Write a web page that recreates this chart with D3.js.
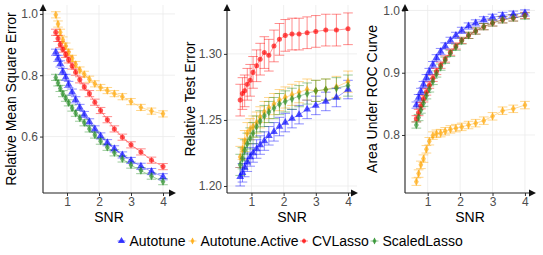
<!DOCTYPE html>
<html>
<head>
<meta charset="utf-8">
<script src="https://cdn.jsdelivr.net/npm/d3@7"></script>
<style>
  body { margin: 0; background: #fff; }
  text { font-family: "Liberation Sans", Arial, sans-serif; }
</style>
</head>
<body>
<svg id="chart" width="543" height="255"></svg>
<script>
// data
const methods = ["Autotune", "Autotune.Active", "CVLasso", "ScaledLasso"];
const snr = [0.65, 0.72, 0.79, 0.87, 0.96, 1.05, 1.16, 1.27, 1.40, 1.54,
             1.70, 1.87, 2.05, 2.26, 2.48, 2.73, 3.00, 3.31, 3.64, 4.00];

// relative mean square error
const mseAutotune = [0.875, 0.855, 0.837, 0.812, 0.793, 0.770, 0.745, 0.720, 0.695, 0.672,
                     0.648, 0.625, 0.602, 0.580, 0.560, 0.540, 0.522, 0.503, 0.486, 0.469];
const mseActive   = [0.997, 0.967, 0.940, 0.915, 0.895, 0.875, 0.855, 0.835, 0.817, 0.803,
                     0.787, 0.772, 0.760, 0.750, 0.740, 0.730, 0.714, 0.695, 0.683, 0.674];
const mseCV       = [0.940, 0.920, 0.900, 0.885, 0.868, 0.850, 0.830, 0.810, 0.785, 0.762,
                     0.740, 0.712, 0.685, 0.655, 0.625, 0.598, 0.573, 0.550, 0.523, 0.502];
const mseScaled   = [0.793, 0.775, 0.757, 0.740, 0.725, 0.710, 0.693, 0.676, 0.660, 0.645,
                     0.625, 0.605, 0.585, 0.565, 0.547, 0.527, 0.507, 0.489, 0.471, 0.453];
const mseErr = [0.010, 0.010, 0.010, 0.010];

// relative test error
const testAutotune = [1.207, 1.210, 1.214, 1.218, 1.222, 1.225, 1.228, 1.231, 1.234, 1.238,
                      1.241, 1.245, 1.248, 1.251, 1.254, 1.258, 1.261, 1.264, 1.267, 1.273];
const testActive   = [1.222, 1.228, 1.234, 1.240, 1.243, 1.245, 1.248, 1.252, 1.256, 1.259,
                      1.262, 1.265, 1.267, 1.269, 1.271, 1.273, 1.272, 1.273, 1.275, 1.279];
const testCV       = [1.265, 1.270, 1.272, 1.277, 1.280, 1.286, 1.291, 1.296, 1.301, 1.299,
                      1.306, 1.311, 1.314, 1.315, 1.315, 1.316, 1.317, 1.318, 1.318, 1.319];
const testScaled   = [1.216, 1.221, 1.227, 1.232, 1.236, 1.240, 1.245, 1.249, 1.253, 1.256,
                      1.259, 1.262, 1.264, 1.266, 1.268, 1.270, 1.272, 1.273, 1.274, 1.276];
const testErr = [0.007, 0.008, 0.012, 0.008];

// area under ROC curve
const aucAutotune = [0.848, 0.860, 0.870, 0.881, 0.892, 0.902, 0.913, 0.924, 0.934, 0.943,
                     0.952, 0.960, 0.968, 0.975, 0.980, 0.985, 0.989, 0.992, 0.994, 0.996];
const aucActive   = [0.725, 0.738, 0.752, 0.762, 0.777, 0.790, 0.799, 0.802, 0.803, 0.806,
                     0.809, 0.811, 0.813, 0.816, 0.819, 0.823, 0.830, 0.839, 0.842, 0.848];
const aucCV       = [0.826, 0.836, 0.847, 0.858, 0.869, 0.880, 0.891, 0.902, 0.912, 0.922,
                     0.933, 0.943, 0.952, 0.960, 0.967, 0.974, 0.980, 0.985, 0.988, 0.992];
const aucScaled   = [0.816, 0.828, 0.840, 0.851, 0.863, 0.874, 0.886, 0.898, 0.909, 0.920,
                     0.931, 0.941, 0.951, 0.960, 0.967, 0.974, 0.980, 0.985, 0.988, 0.991];
const aucErr = [0.005, 0.006, 0.005, 0.005];

const xTicks = [1, 2, 3, 4];
const mseTicks = [0.6, 0.8, 1.0];
const testTicks = [1.20, 1.25, 1.30];
const aucTicks = [0.8, 0.9, 1.0];

const colors = ["#0000ff", "#ffa500", "#ff0000", "#228b22"];
const shapes = [d3.symbolTriangle, d3.symbolDiamond, d3.symbolCircle, d3.symbolDiamond];

const panels = [
  {title: "Relative Mean Square Error", series: [mseAutotune, mseActive, mseCV, mseScaled], err: mseErr,
   ticks: mseTicks, fmt: d3.format(".1f"), left: 43, right: 175, xdom: [0.25, 4.375], ydom: [0.416, 1.029], titleX: 11},
  {title: "Relative Test Error", series: [testAutotune, testActive, testCV, testScaled], err: testErr,
   ticks: testTicks, fmt: d3.format(".2f"), left: 227, right: 357, xdom: [0.24, 4.28], ydom: [1.1947, 1.337], titleX: 190},
  {title: "Area Under ROC Curve", series: [aucAutotune, aucActive, aucCV, aucScaled], err: aucErr,
   ticks: aucTicks, fmt: d3.format(".1f"), left: 405, right: 535, xdom: [0.30, 4.31], ydom: [0.7068, 1.0088], titleX: 372}
];

const yTop = 5, yBottom = 193;
const svg = d3.select("#chart");

panels.forEach(p => {
  const x = d3.scaleLinear().domain(p.xdom).range([p.left, p.right]);
  const y = d3.scaleLinear().domain(p.ydom).range([yBottom, yTop]);
  const g = svg.append("g");

  // grid
  g.selectAll(".vg").data(xTicks).enter().append("line")
    .attr("x1", d => x(d)).attr("x2", d => x(d))
    .attr("y1", yTop).attr("y2", yBottom)
    .attr("stroke", "#ebebeb").attr("stroke-width", 0.8);
  g.selectAll(".hg").data(p.ticks).enter().append("line")
    .attr("x1", p.left).attr("x2", p.right)
    .attr("y1", d => y(d)).attr("y2", d => y(d))
    .attr("stroke", "#ebebeb").attr("stroke-width", 0.8);

  // lines
  const line = d3.line().x((d, i) => x(snr[i])).y(d => y(d));
  p.series.forEach((s, k) => {
    g.append("path").datum(s).attr("d", line)
      .attr("fill", "none").attr("stroke", colors[k])
      .attr("stroke-opacity", 0.5).attr("stroke-width", 0.8);
  });

  // error bars
  p.series.forEach((s, k) => {
    const e = p.err[k];
    const eb = g.append("g").attr("stroke", colors[k]).attr("stroke-opacity", 0.45).attr("stroke-width", 1);
    s.forEach((v, i) => {
      const cx = x(snr[i]), hw = x(snr[i] + 0.15) - cx;
      eb.append("line").attr("x1", cx).attr("x2", cx).attr("y1", y(v - e)).attr("y2", y(v + e));
      eb.append("line").attr("x1", cx - hw).attr("x2", cx + hw).attr("y1", y(v - e)).attr("y2", y(v - e));
      eb.append("line").attr("x1", cx - hw).attr("x2", cx + hw).attr("y1", y(v + e)).attr("y2", y(v + e));
    });
  });

  // points
  p.series.forEach((s, k) => {
    g.selectAll(null).data(s).enter().append("path")
      .attr("transform", (d, i) => `translate(${x(snr[i])},${y(d)})`)
      .attr("d", d3.symbol().type(shapes[k]).size(k === 0 ? 26 : 20))
      .attr("fill", colors[k]).attr("fill-opacity", 0.65);
  });

  // axes
  const ax = g.append("g").attr("transform", `translate(0,${yBottom})`)
    .call(d3.axisBottom(x).tickValues(xTicks).tickSize(3).tickPadding(1).tickFormat(d3.format("d")));
  const ay = g.append("g").attr("transform", `translate(${p.left},0)`)
    .call(d3.axisLeft(y).tickValues(p.ticks).tickSize(3).tickPadding(2).tickFormat(p.fmt));
  [ax, ay].forEach(a => {
    a.select(".domain").remove();
    a.selectAll("line").attr("stroke", "#333");
    a.selectAll("text").attr("fill", "#4d4d4d").style("font-size", "12px")
      .style("font-family", "'Liberation Sans', Arial, sans-serif");
  });

  // axis lines with arrows
  g.append("line").attr("x1", p.left).attr("x2", p.left).attr("y1", yBottom).attr("y2", yTop + 4)
    .attr("stroke", "#222").attr("stroke-width", 1.1);
  g.append("line").attr("x1", p.left).attr("x2", p.right - 4).attr("y1", yBottom).attr("y2", yBottom)
    .attr("stroke", "#222").attr("stroke-width", 1.1);
  g.append("path").attr("d", `M${p.left},${yTop - 1}L${p.left - 3.5},${yTop + 6}L${p.left + 3.5},${yTop + 6}Z`).attr("fill", "#111");
  g.append("path").attr("d", `M${p.right + 1},${yBottom}L${p.right - 6},${yBottom - 3.5}L${p.right - 6},${yBottom + 3.5}Z`).attr("fill", "#111");

  // titles
  g.append("text").attr("transform", `translate(${p.titleX},${(yTop + yBottom) / 2}) rotate(-90)`)
    .attr("text-anchor", "middle").attr("dominant-baseline", "central")
    .style("font-size", "14px").attr("fill", "#000").text(p.title);
  g.append("text").attr("x", (p.left + p.right) / 2).attr("y", 217)
    .attr("text-anchor", "middle").attr("dominant-baseline", "central")
    .style("font-size", "14px").attr("fill", "#000").text("SNR");
});

// legend
const legendX = [121.5, 192.5, 304, 374.5];
const lg = svg.append("g").attr("transform", "translate(0,241)");
methods.forEach((m, k) => {
  const item = lg.append("g").attr("transform", `translate(${legendX[k]},0)`);
  item.append("line").attr("x1", -4).attr("x2", 4).attr("stroke", colors[k]).attr("stroke-opacity", 0.5);
  if (k > 0) item.append("line").attr("y1", -3).attr("y2", 3).attr("stroke", colors[k]).attr("stroke-opacity", 0.4);
  item.append("path").attr("d", d3.symbol().type(shapes[k]).size(k === 0 ? 22 : 14))
    .attr("fill", colors[k]).attr("fill-opacity", 0.75);
  item.append("text").attr("x", 8).attr("dominant-baseline", "central")
    .style("font-size", "14px").attr("fill", "#000").text(m);
});
</script>
</body>
</html>
